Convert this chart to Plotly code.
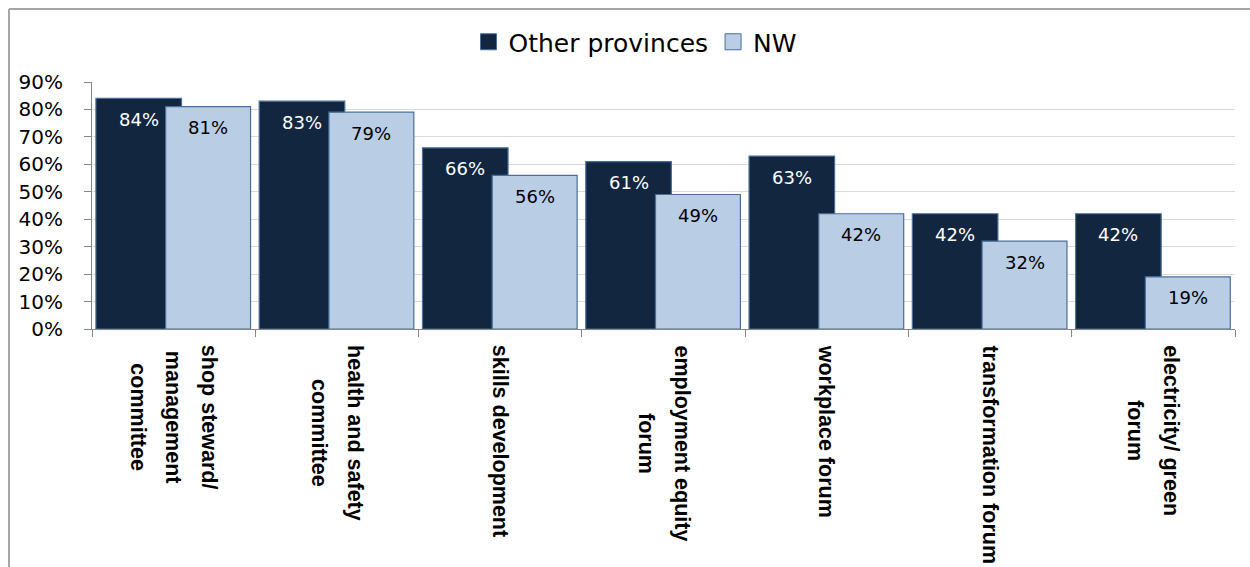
import plotly.graph_objects as go

# --- data -------------------------------------------------------------
categories = [
    "shop steward/<br>management<br>committee",
    "health and safety<br>committee",
    "skills development",
    "employment equity<br>forum",
    "workplace forum",
    "transformation forum",
    "electricity/ green<br>forum",
]
other_provinces = [84, 83, 66, 61, 63, 42, 42]
nw = [81, 79, 56, 49, 42, 32, 19]
y_ticks = [0, 10, 20, 30, 40, 50, 60, 70, 80, 90]

# --- geometry / style --------------------------------------------------
W, H = 1250, 567
M = dict(l=92, r=15, t=82, b=238)
PLOT_W = W - M["l"] - M["r"]
PLOT_H = H - M["t"] - M["b"]


def paper_x(px):
    return (px - M["l"]) / PLOT_W


def paper_y(py):
    return (H - M["b"] - py) / PLOT_H


DARK = "#13263f"
LIGHT = "#b9cde5"
EDGE = "#4a6e9b"
AXIS = "#868686"
GRID = "#d9d9d9"

fig = go.Figure()

# (name, values, fill, bar offset, bar width, label colour)
series = [
    ("Other provinces", other_provinces, DARK, -0.476, 0.524, "white"),
    ("NW", nw, LIGHT, -0.049, 0.52, "black"),
]

for name, vals, color, off, wid, tcol in series:
    fig.add_bar(
        x=categories, y=vals, name=name, offset=off, width=wid,
        marker=dict(color=color, line=dict(color=EDGE, width=1.2)),
        showlegend=False, hoverinfo="x+y",
    )
    # legend entry with a larger square swatch
    fig.add_scatter(
        x=[None], y=[None], mode="markers", name=name,
        marker=dict(symbol="square", size=16, color=color,
                    line=dict(color=EDGE, width=1)),
    )
    # value labels near the top of each bar
    for i, v in enumerate(vals):
        fig.add_annotation(
            x=i + off + wid / 2, y=v, xref="x", yref="y",
            text=f"{v}%", showarrow=False, yshift=-21,
            font=dict(family="DejaVu Sans", size=18, color=tcol),
        )

# rotated, centred category labels under the axis
for i, c in enumerate(categories):
    lines = c.split("<br>")
    txt = "<br>".join(
        f"<span style='font-size:21.5px'><b>{ln}</b></span>" for ln in lines
    )
    fig.add_annotation(
        x=i, xref="x", y=0, yref="paper", yanchor="top", xanchor="center",
        yshift=-14, textangle=90, align="center", showarrow=False,
        text=txt,
        font=dict(family="Liberation Sans", size=27.5, color="black"),
    )

# outer frame (top and left edges)
frame = dict(type="line", xref="paper", yref="paper",
             line=dict(color="#a6a6a6", width=2), layer="above")
fig.add_shape(x0=paper_x(9), x1=paper_x(W + 5), y0=paper_y(9), y1=paper_y(9), **frame)
fig.add_shape(x0=paper_x(9), x1=paper_x(9), y0=paper_y(9), y1=paper_y(H + 5), **frame)

fig.update_layout(
    width=W, height=H,
    margin=M,
    barmode="overlay",
    plot_bgcolor="white", paper_bgcolor="white",
    font=dict(family="DejaVu Sans", color="black"),
    legend=dict(
        orientation="h", x=paper_x(635), xanchor="center",
        y=paper_y(42), yanchor="middle",
        font=dict(family="DejaVu Sans", size=25, color="black"),
        bgcolor="rgba(0,0,0,0)", itemclick=False,
    ),
    showlegend=True,
)

fig.update_xaxes(
    type="category", range=[-0.5, len(categories) - 0.5],
    showticklabels=False, showgrid=False,
    showline=True, linecolor=AXIS, linewidth=1,
    ticks="outside", tickson="boundaries", ticklen=7, tickcolor=AXIS,
)
fig.update_yaxes(
    range=[0, 90], tickvals=y_ticks, ticktext=[f"{v}%" for v in y_ticks],
    showgrid=True, gridcolor=GRID, gridwidth=1, zeroline=False,
    showline=True, linecolor=AXIS, linewidth=1,
    ticks="outside", ticklen=7, tickcolor=AXIS,
    tickfont=dict(family="DejaVu Sans", size=20, color="black"),
    ticklabelstandoff=17,
)

fig.write_html("out.html")
